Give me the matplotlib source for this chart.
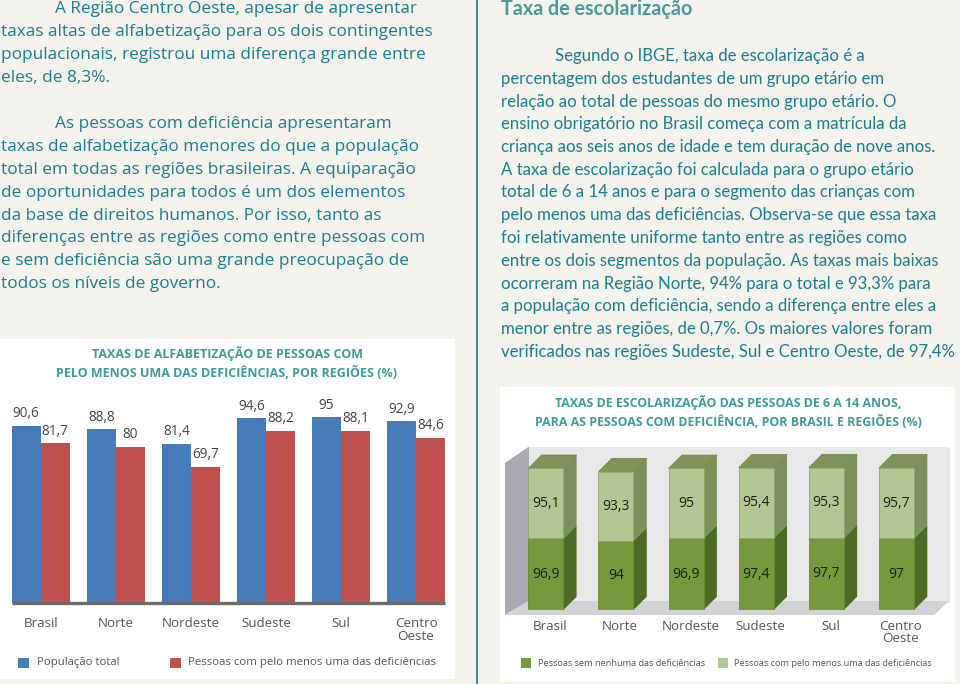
import matplotlib
matplotlib.use('Agg')
import matplotlib.pyplot as plt
from matplotlib.patches import Rectangle, Polygon
from matplotlib.lines import Line2D
from matplotlib.transforms import Affine2D
import numpy as np

# ---------------- data ----------------
regions = ['Brasil', 'Norte', 'Nordeste', 'Sudeste', 'Sul', 'Centro\nOeste']
alfab_total = [90.6, 88.8, 81.4, 94.6, 95.0, 92.9]
alfab_def = [81.7, 80.0, 69.7, 88.2, 88.1, 84.6]
escol_sem = [96.9, 94.0, 96.9, 97.4, 97.7, 97.0]
escol_com = [95.1, 93.3, 95.0, 95.4, 95.3, 95.7]

left_lines = [
    "A Região Centro Oeste, apesar de apresentar",
    "taxas altas de alfabetização para os dois contingentes",
    "populacionais, registrou uma diferença grande entre",
    "eles, de 8,3%.",
    "",
    "As pessoas com deficiência apresentaram",
    "taxas de alfabetização menores do que a população",
    "total em todas as regiões brasileiras. A equiparação",
    "de oportunidades para todos é um dos elementos",
    "da base de direitos humanos. Por isso, tanto as",
    "diferenças entre as regiões como entre pessoas com",
    "e sem deficiência são uma grande preocupação de",
    "todos os níveis de governo.",
]
right_title = "Taxa de escolarização"
right_lines = [
    "Segundo o IBGE, taxa de escolarização é a",
    "percentagem dos estudantes de um grupo etário em",
    "relação ao total de pessoas do mesmo grupo etário. O",
    "ensino obrigatório no Brasil começa com a matrícula da",
    "criança aos seis anos de idade e tem duração de nove anos.",
    "A taxa de escolarização foi calculada para o grupo etário",
    "total de 6 a 14 anos e para o segmento das crianças com",
    "pelo menos uma das deficiências. Observa-se que essa taxa",
    "foi relativamente uniforme tanto entre as regiões como",
    "entre os dois segmentos da população. As taxas mais baixas",
    "ocorreram na Região Norte, 94% para o total e 93,3% para",
    "a população com deficiência, sendo a diferença entre eles a",
    "menor entre as regiões, de 0,7%. Os maiores valores foram",
    "verificados nas regiões Sudeste, Sul e Centro Oeste, de 97,4%",
]
title1 = ["TAXAS DE ALFABETIZAÇÃO DE PESSOAS COM",
          "PELO MENOS UMA DAS DEFICIÊNCIAS, POR REGIÕES (%)"]
title2 = ["TAXAS DE ESCOLARIZAÇÃO DAS PESSOAS DE 6 A 14 ANOS,",
          "PARA AS PESSOAS COM DEFICIÊNCIA, POR BRASIL E REGIÕES (%)"]
legend1 = ["População total", "Pessoas com pelo menos uma das deficiências"]
legend2 = ["Pessoas sem nenhuma das deficiências", "Pessoas com pelo menos uma das deficiências"]


def fmt(v):
    return f"{v:g}".replace('.', ',')


# ---------------- style ----------------
W, H = 960, 684
BG = '#f3f2ed'
TEAL = '#1c7f8f'
TITLE_TEAL = '#3c9c9c'
HEAD_TEAL = '#4a9a9c'
BLUE = '#467db9'
RED = '#c0504d'
DARK_FRONT = '#77993b'
DARK_SIDE = '#4e6a25'
LIGHT_FRONT = '#b4c793'
LIGHT_SIDE = '#7d8f5d'
TOP = '#7e9458'
GRAY_TXT = '#555555'
FONT_L = 'Open Sans'
FONT_R = 'Lato'

fig = plt.figure(figsize=(9.6, 6.84), dpi=100, facecolor=BG)
PX = Affine2D().scale(1 / W, -1 / H).translate(0, 1) + fig.transFigure
renderer = fig.canvas.get_renderer()


def fit(text, target, **kw):
    t = fig.text(0, 0, text, fontsize=10, **kw)
    w = t.get_window_extent(renderer).width
    t.remove()
    return 10 * target / w


def px_axes(x0, y0, x1, y1):
    ax = fig.add_axes([x0 / W, 1 - y1 / H, (x1 - x0) / W, (y1 - y0) / H])
    ax.set_facecolor('none')
    ax.axis('off')
    return ax


# ---------------- page text ----------------
fs_left = fit(left_lines[1], 433, family=FONT_L)
for i, line in enumerate(left_lines):
    x = 55 if i in (0, 5) else 1
    fig.text(x, 13.0 + 22.95 * i, line, transform=PX, family=FONT_L,
             fontsize=fs_left, color=TEAL, va='baseline', ha='left')

fs_rt = fit(right_title, 191, family=FONT_R, fontweight='bold')
fig.text(500.7, 15, right_title, transform=PX, family=FONT_R, fontweight='bold',
         fontsize=fs_rt, color=HEAD_TEAL, va='baseline', ha='left')

fs_right = fit(right_lines[4], 434, family=FONT_R)
for i, line in enumerate(right_lines):
    x = 555 if i == 0 else 500.7
    fig.text(x, 61 + 22.75 * i, line, transform=PX, family=FONT_R,
             fontsize=fs_right, color=TEAL, va='baseline', ha='left')

fig.add_artist(Line2D([477.3, 477.3], [0, H], transform=PX, color='#2f8090', lw=1.3, zorder=-1))

# ---------------- panels ----------------
fig.add_artist(Rectangle((0, 339), 455, 340, transform=PX, facecolor='white',
                         edgecolor='none', zorder=-2))
fig.add_artist(Rectangle((500, 387), 455, 295, transform=PX, facecolor='white',
                         edgecolor='none', zorder=-2))

# ---------------- left chart ----------------
fs_t1 = fit(title1[1], 339, family=FONT_L, fontweight='bold')
for i, t in enumerate(title1):
    fig.text(227, 353.3 + 19.4 * i, t, transform=PX, family=FONT_L, fontweight='bold',
             fontsize=fs_t1, color=TITLE_TEAL, ha='center', va='center')

scale1 = 1.954  # px per unit
base1 = 603
ax1 = px_axes(0, base1 - 105 * scale1, 455, base1)
pitch1 = 75.06
ax1.set_xlim((0 - 40.7) / pitch1, (455 - 40.7) / pitch1)
ax1.set_ylim(0, 105)
x = np.arange(len(regions))
w1 = 29 / pitch1
ax1.bar(x - w1 / 2, alfab_total, w1, color=BLUE, zorder=2)
ax1.bar(x + w1 / 2, alfab_def, w1, color=RED, zorder=2)
ax1.hlines(0, x[0] - w1, x[-1] + w1, color='#6b6b6b', lw=2.4, zorder=3, clip_on=False)
for xi, a, b in zip(x, alfab_total, alfab_def):
    ax1.annotate(fmt(a), (xi - w1 / 2, a), xytext=(0, 12), textcoords='offset pixels',
                 ha='center', va='center', fontsize=9.8, color='#444444', family=FONT_L,
                 annotation_clip=False)
    ax1.annotate(fmt(b), (xi + w1 / 2, b), xytext=(0, 12), textcoords='offset pixels',
                 ha='center', va='center', fontsize=9.8, color='#444444', family=FONT_L,
                 annotation_clip=False)
for xi, r in zip(x, regions):
    ax1.annotate(r, (xi, 0), xytext=(0, -14), textcoords='offset pixels', ha='center',
                 va='top', fontsize=9.6, color=GRAY_TXT, family=FONT_L, linespacing=0.95,
                 annotation_clip=False)

fs_l1 = fit(legend1[1], 248, family=FONT_L)
for (sx, tx), col, lab in zip([(18, 37), (170, 188)], [BLUE, RED], legend1):
    fig.add_artist(Rectangle((sx, 657.5), 11, 10, transform=PX, facecolor=col, edgecolor='none'))
    fig.text(tx, 662.5, lab, transform=PX, family=FONT_L, fontsize=fs_l1, color=GRAY_TXT,
             ha='left', va='center')

# ---------------- right chart ----------------
fs_t2 = fit(title2[1], 387, family=FONT_L, fontweight='bold')
for i, t in enumerate(title2):
    fig.text(728, 402.3 + 19.4 * i, t, transform=PX, family=FONT_L, fontweight='bold',
             fontsize=fs_t2, color=TITLE_TEAL, ha='center', va='center')

# walls / floor (decoration)
fig.add_artist(Rectangle((529, 446.5), 421, 156, transform=PX, facecolor='#e8e8e8',
                         edgecolor='none', zorder=-1))
fig.add_artist(Polygon([(505, 463), (529, 446.5), (529, 601), (505, 615)], closed=True,
                       transform=PX, facecolor='#a8aaae', edgecolor='none', zorder=-1))
fig.add_artist(Polygon([(529, 601), (949, 601), (934, 615), (505, 615)], closed=True,
                       transform=PX, facecolor='#d1d2d4', edgecolor='none', zorder=-1))

scale2 = 0.738
base2 = 610
pitch2 = 70.14
ax2 = px_axes(500, base2 - 220 * scale2, 953, base2)
ax2.set_xlim((500 - 545.8) / pitch2, (953 - 545.8) / pitch2)
ax2.set_ylim(0, 220)
w2 = 35 / pitch2
dx = 13.3 / pitch2
dy = 13.3 / scale2
sem = np.array(escol_sem)
com = np.array(escol_com)
ax2.bar(x, sem, w2, color=DARK_FRONT, edgecolor='#6a8a34', lw=0.6, zorder=3)
ax2.bar(x, com, w2, bottom=sem, color=LIGHT_FRONT, edgecolor='#8fa66a', lw=0.6, zorder=3)
for xi, s, c in zip(x, sem, com):
    r = xi + w2 / 2
    l = xi - w2 / 2
    ax2.add_patch(Polygon([(r, 0), (r + dx, dy), (r + dx, s + dy), (r, s)], closed=True,
                          facecolor=DARK_SIDE, edgecolor='none', zorder=2, clip_on=False))
    ax2.add_patch(Polygon([(r, s), (r + dx, s + dy), (r + dx, s + c + dy), (r, s + c)], closed=True,
                          facecolor=LIGHT_SIDE, edgecolor='none', zorder=2, clip_on=False))
    tp = s + c
    ax2.add_patch(Polygon([(l, tp), (r, tp), (r + dx, tp + dy), (l + dx, tp + dy)], closed=True,
                          facecolor=TOP, edgecolor='#6f8548', lw=0.5, zorder=2, clip_on=False))
    ax2.text(xi, s / 2, fmt(s), ha='center', va='center', fontsize=10, color='#1e1e1e',
             family=FONT_L, zorder=4)
    ax2.text(xi, s + c / 2, fmt(c), ha='center', va='center', fontsize=10, color='#1e1e1e',
             family=FONT_L, zorder=4)
for xi, r in zip(x, regions):
    ax2.annotate(r, (xi + 0.06, 0), xytext=(0, -10), textcoords='offset pixels', ha='center',
                 va='top', fontsize=9.6, color=GRAY_TXT, family=FONT_L, linespacing=0.95,
                 annotation_clip=False)

fs_l2 = fit(legend2[1], 197, family=FONT_L)
for (sx, tx), col, lab in zip([(521, 538), (717.7, 734)], [DARK_FRONT, LIGHT_FRONT], legend2):
    fig.add_artist(Rectangle((sx, 658), 10, 10, transform=PX, facecolor=col, edgecolor='none'))
    fig.text(tx, 663, lab, transform=PX, family=FONT_L, fontsize=fs_l2, color=GRAY_TXT,
             ha='left', va='center')

fig.savefig('out.png', dpi=100, facecolor=BG)
